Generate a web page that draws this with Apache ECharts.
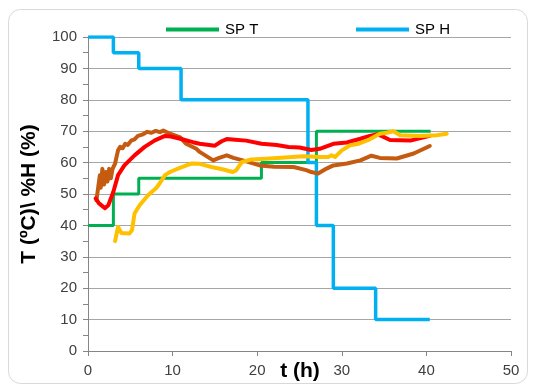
<!DOCTYPE html>
<html>
<head>
<meta charset="utf-8">
<script src="https://cdn.jsdelivr.net/npm/echarts@6/dist/echarts.min.js"></script>
<style>
  html, body { margin: 0; padding: 0; background: #ffffff; }
  #chart { width: 533px; height: 385px; }
</style>
</head>
<body>
<div id="chart"></div>
<script>
// Axis ticks
const xTicks = [0, 10, 20, 30, 40, 50];
const yTicks = [0, 10, 20, 30, 40, 50, 60, 70, 80, 90, 100];

// Set points (step changes): time in hours, value held until next change
const spTTime  = [0, 3, 6, 20.5, 27, 40.5];
const spTValue = [40, 50, 55, 60, 70, 70];
const spHTime  = [0, 3, 6, 11, 26, 27, 29, 34, 40.4];
const spHValue = [100, 95, 90, 80, 60, 40, 20, 10, 10];

// Measured curve 1 (red)
const redTime  = [0.9, 1.3, 2.0, 2.4, 3.0, 3.55, 4.3, 5.5, 6.7, 7.9, 9.1, 9.8, 10.9, 12.4, 13.2, 15, 15.8, 16.4, 17.4, 18.7, 20.5, 22.3, 23.7, 25, 26.4, 27.4, 29, 30.6, 32.2, 33.3, 34.3, 35.7, 38.1, 40.4];
const redValue = [48.6, 47, 45.5, 46.4, 50.7, 56, 59.1, 62.3, 65, 67.1, 68.5, 68.3, 67.6, 66.5, 66, 65.4, 66.8, 67.5, 67.3, 67, 66, 65.6, 65, 64.8, 64, 64.4, 66, 66.4, 67.6, 68.5, 69, 67.2, 67, 68.5];

// Measured curve 2 (brown)
const brownTime  = [1.0, 1.2, 1.4, 1.5, 1.7, 1.9, 2.1, 2.3, 2.5, 2.7, 2.9, 3.2, 3.55, 3.8, 4.1, 4.4, 4.7, 5.1, 5.5, 5.9, 6.5, 7, 7.5, 8, 8.5, 8.9, 9.7, 10.9, 11.6, 12.8, 13.2, 14.8, 15.5, 16.4, 17.2, 18.3, 20.3, 22, 24.3, 25.8, 26.4, 27.2, 28.2, 29, 30.6, 32.2, 33.5, 34.5, 36.5, 38.5, 40.4];
const brownValue = [48, 52, 56, 52, 58, 53, 57, 54, 58, 55, 58, 59.7, 63.9, 65, 64.6, 66, 65.6, 67, 67.4, 68.5, 69, 69.8, 69.5, 70.1, 69.7, 70.2, 69.2, 68, 66, 64.4, 63.4, 60.7, 61.5, 62.3, 61.5, 60.7, 59.1, 58.7, 58.6, 57.6, 57, 56.5, 58.1, 59.1, 59.7, 60.7, 62.2, 61.5, 61.3, 62.9, 65.3];

// Measured curve 3 (yellow)
const yellowTime  = [3.2, 3.55, 3.95, 4.9, 5.2, 5.5, 6.1, 7.1, 8.1, 8.5, 9.1, 9.7, 10.85, 12.2, 13.2, 14.6, 16, 17.1, 17.5, 18.2, 19.3, 21, 23.3, 25.5, 27.4, 28.4, 28.8, 29.2, 30, 31, 32, 33.3, 34.5, 35.3, 36.1, 36.9, 39.3, 41.2, 42.4];
const yellowValue = [35, 39.5, 37.6, 37.4, 38.5, 43.8, 46.4, 49.6, 52, 53.5, 56, 57, 58.3, 59.7, 59.6, 58.6, 57.8, 57, 57.5, 60.2, 61, 61.2, 61.6, 62, 61.8, 61.8, 62.3, 61.8, 63.9, 65.5, 66, 67.4, 69.2, 69.5, 70, 68.7, 68.5, 68.7, 69.2];

const zip = (xs, ys) => xs.map((x, i) => [x, ys[i]]);

const FONT = 'Liberation Sans, Arial, sans-serif';
const AXIS_GREY = '#868686';

const chart = echarts.init(document.getElementById('chart'), null, { renderer: 'canvas' });

const curve = (name, color, xs, ys) => ({
  name, type: 'line', data: zip(xs, ys), symbol: 'none', showSymbol: false,
  lineStyle: { color, width: 4, cap: 'round', join: 'round' },
  itemStyle: { color }, animation: false, z: 3
});

const legendBase = {
  icon: 'rect', itemWidth: 53, itemHeight: 4, itemGap: 5, top: 17,
  textStyle: { fontFamily: FONT, fontSize: 15, color: '#000', padding: [0, 0, 0, 1] }
};

chart.setOption({
  backgroundColor: '#ffffff',
  animation: false,
  graphic: [
    {
      type: 'rect', silent: true, z: -10,
      shape: { x: 8.5, y: 9.5, width: 519, height: 374, r: 12 },
      style: { fill: 'none', stroke: '#d9d9d9', lineWidth: 1 }
    },
    {
      // horizontal axis title, sitting between the 20 and 30 tick labels
      type: 'text', silent: true, x: 300, y: 371,
      style: {
        text: 't (h)', align: 'center', verticalAlign: 'middle',
        font: 'bold 21px ' + FONT, fill: '#000'
      }
    }
  ],
  legend: [
    Object.assign({ data: ['SP T'], left: 161 }, legendBase),
    Object.assign({ data: ['SP H'], left: 351 }, legendBase)
  ],
  grid: { left: 88, right: 22, top: 37, bottom: 34, outerBoundsMode: 'none', containLabel: false },
  xAxis: {
    type: 'value', min: xTicks[0], max: xTicks[xTicks.length - 1], interval: 10,
    axisLine: { lineStyle: { color: AXIS_GREY, width: 1 } },
    axisTick: { show: true, length: 5, lineStyle: { color: AXIS_GREY } },
    splitLine: { show: false },
    axisLabel: { fontFamily: FONT, fontSize: 15, color: '#404040', margin: 12 }
  },
  yAxis: {
    type: 'value', min: yTicks[0], max: yTicks[yTicks.length - 1], interval: 10,
    name: 'T (ºC)\\ %H (%)', nameLocation: 'middle', nameGap: 48, nameRotate: 90,
    nameTextStyle: { fontFamily: FONT, fontSize: 21, fontWeight: 'bold', color: '#000' },
    axisLine: { show: true, lineStyle: { color: AXIS_GREY, width: 1 } },
    axisTick: { show: true, length: 5, lineStyle: { color: AXIS_GREY } },
    minorTick: { show: true, splitNumber: 2, length: 5, lineStyle: { color: AXIS_GREY } },
    splitLine: { show: true, lineStyle: { color: '#a6a6a6', width: 1 } },
    axisLabel: { fontFamily: FONT, fontSize: 15, color: '#404040', margin: 11 }
  },
  series: [
    { name: 'SP T', type: 'line', step: 'end', data: zip(spTTime, spTValue), symbol: 'none',
      lineStyle: { color: '#00b050', width: 3 }, itemStyle: { color: '#00b050' }, z: 2 },
    { name: 'SP H', type: 'line', step: 'end', data: zip(spHTime, spHValue), symbol: 'none',
      lineStyle: { color: '#00b0f0', width: 3.5 }, itemStyle: { color: '#00b0f0' }, z: 2 },
    curve('T2', '#c55a11', brownTime, brownValue),
    curve('T1', '#ff0000', redTime, redValue),
    curve('H1', '#ffc000', yellowTime, yellowValue)
  ]
});
</script>
</body>
</html>
